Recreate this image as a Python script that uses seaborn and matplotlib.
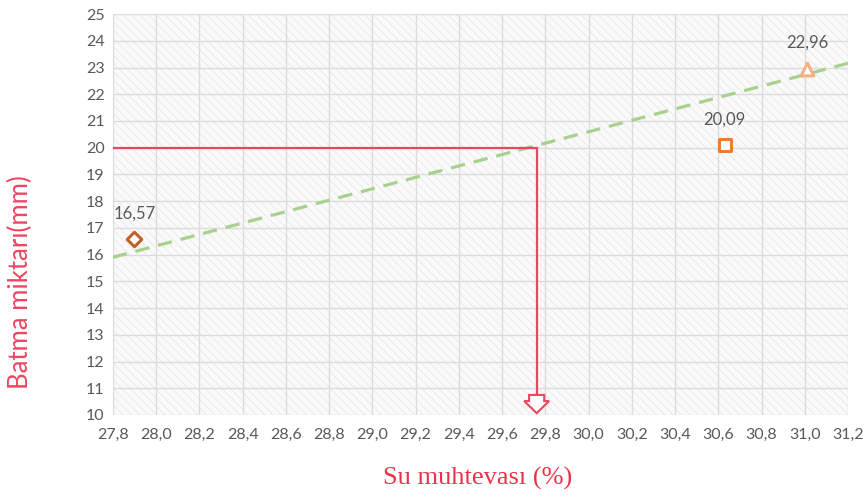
import matplotlib
matplotlib.use("Agg")
import matplotlib.pyplot as plt
import matplotlib.patches as mpatches
import numpy as np
import pandas as pd
import seaborn as sns

# Measured samples: water content (%) and penetration (mm)
water_content = [27.9, 30.63, 31.01]
penetration = [16.57, 20.09, 22.96]
point_labels = ["16,57", "20,09", "22,96"]
point_markers = ["D", "s", "^"]
point_colors = ["#c0622a", "#ed7d31", "#f4b183"]

# Linear trend line end points
trend_x = [27.8, 31.2]
trend_y = [15.9, 23.16]

# Reading at 20 mm penetration
read_y = 20.0
read_x = 29.76

x_ticks = np.round(np.arange(27.8, 31.21, 0.2), 1)
y_ticks = list(range(10, 26))

sns.set_theme(style="white")
plt.rcParams["font.family"] = ["Lato", "DejaVu Sans"]
plt.rcParams["hatch.linewidth"] = 0.5
plt.rcParams["hatch.color"] = "#e4e4e4"

fig = plt.figure(figsize=(8.68, 5.03), dpi=100)
ax = fig.add_axes([0.130, 0.175, 0.847, 0.797])

ax.set_xlim(27.8, 31.2)
ax.set_ylim(10, 25)

# hatched plot background
bg = mpatches.Rectangle((0, 0), 1, 1, transform=ax.transAxes, facecolor="#fafafa",
                        edgecolor="#e4e4e4", hatch="\\\\\\\\", linewidth=0, zorder=0)
ax.add_patch(bg)

ax.set_xticks(x_ticks)
ax.set_xticklabels([f"{v:.1f}".replace(".", ",") for v in x_ticks])
ax.set_yticks(y_ticks)
ax.set_yticklabels([str(v) for v in y_ticks])
ax.grid(True, color="#dcdcdc", linewidth=1.0, zorder=1)
ax.set_axisbelow(True)
for s in ax.spines.values():
    s.set_visible(False)
ax.tick_params(axis="both", colors="#595959", labelsize=11.5, length=0, pad=6)
ax.tick_params(axis="x", pad=9)

# trend line
trend = pd.DataFrame({"x": trend_x, "y": trend_y})
sns.lineplot(data=trend, x="x", y="y", ax=ax, color="#a9d18e", linewidth=2.3,
             linestyle=(0, (4.5, 2.8)), zorder=3)

# reading guide: horizontal then vertical down to the x axis
ax.plot([27.8, read_x, read_x], [read_y, read_y, 10.75], color="#e8475f",
        linewidth=1.6, zorder=4, solid_joinstyle="miter")
arrow = mpatches.FancyArrow(read_x, 10.75, 0, -0.68, width=0.07, head_width=0.115,
                            head_length=0.45, length_includes_head=True,
                            facecolor="white", edgecolor="#e8475f", linewidth=1.5,
                            zorder=5)
ax.add_patch(arrow)

# sample points
for x, y, lab, m, c in zip(water_content, penetration, point_labels, point_markers, point_colors):
    size = 55 if m == "D" else 85
    sns.scatterplot(x=[x], y=[y], marker=m, s=size, facecolor="white", edgecolor=c,
                    linewidth=2.2, ax=ax, zorder=6, legend=False)
    ax.annotate(lab, (x, y), xytext=(0, 13), textcoords="offset points",
                ha="center", va="bottom", color="#595959", fontsize=12)

ax.set_xlabel("Su muhtevası (%)", family=["Liberation Serif", "DejaVu Serif"],
              color="#e8334a", fontsize=19)
ax.xaxis.set_label_coords((478 - 113) / 735, -(478 - 415) / 401)
ax.xaxis.label.set_va("center")
ax.set_ylabel("Batma miktarı(mm)", color="#ee4660", fontsize=18.5)
ax.yaxis.set_label_coords(-(113 - 21) / 735, (415 - 282) / 401)
ax.yaxis.label.set_va("center")

fig.savefig("out.png", dpi=100, facecolor="white")
